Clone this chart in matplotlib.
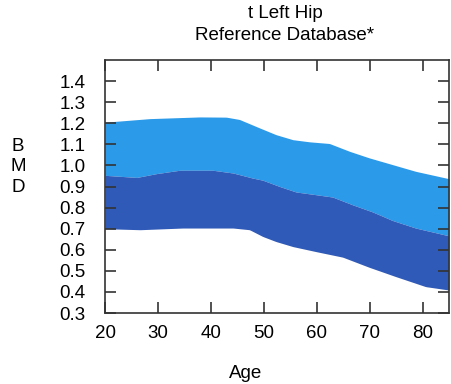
import matplotlib
matplotlib.use("Agg")
import matplotlib.pyplot as plt
import numpy as np

plt.rcParams['font.family'] = ['Liberation Sans', 'DejaVu Sans']

# reference curves (age, BMD)
age_up = [20, 28.5, 37.9, 42.9, 45.4, 49.2, 52.3, 55.5, 58.6, 62.4, 66.2, 69.9, 74.3, 78.7, 85]
upper = [1.205, 1.222, 1.230, 1.229, 1.218, 1.178, 1.146, 1.122, 1.112, 1.104, 1.067, 1.036, 1.004, 0.972, 0.937]

age_mid = [20, 26, 29.7, 34.1, 40.4, 44.2, 47.9, 49.8, 53, 56.1, 59.9, 63, 66.8, 70.6, 74.3, 78.7, 85]
middle = [0.953, 0.943, 0.961, 0.977, 0.977, 0.964, 0.940, 0.930, 0.900, 0.874, 0.861, 0.850, 0.813, 0.779, 0.739, 0.703, 0.666]

age_low = [20, 26.6, 34.7, 44.2, 47.3, 49.8, 52.3, 55.5, 59.9, 64.9, 69.9, 74.9, 80.6, 85]
lower = [0.700, 0.695, 0.703, 0.703, 0.695, 0.663, 0.639, 0.615, 0.591, 0.565, 0.517, 0.473, 0.425, 0.409]

xticks = [20, 30, 40, 50, 60, 70, 80]
yticks = [0.3, 0.4, 0.5, 0.6, 0.7, 0.8, 0.9, 1.0, 1.1, 1.2, 1.3, 1.4]

# common age grid so the bands can share edges
grid = np.linspace(20, 85, 261)
up = np.interp(grid, age_up, upper)
mid = np.interp(grid, age_mid, middle)
low = np.interp(grid, age_low, lower)

fig = plt.figure(figsize=(4.51, 3.84), dpi=100)
ax = fig.add_axes([105/451, 1-313/384, 344/451, 253/384])

ax.fill_between(grid, mid, up, color='#2b9ae9', lw=0)
ax.fill_between(grid, low, mid, color='#2f5ab8', lw=0)

ax.set_xlim(20, 85)
ax.set_ylim(0.3, 1.5)
ax.set_xticks(xticks)
ax.set_yticks(yticks)
ax.set_yticklabels([f'{v:.1f}' for v in yticks])
ax.tick_params(direction='in', length=8, width=1.2, color='#333333',
               top=True, right=True, labelsize=13.5)
ax.tick_params(axis='y', pad=14)
ax.tick_params(axis='x', pad=9)
for s in ax.spines.values():
    s.set_color('#333333')
    s.set_linewidth(1.2)

fig.text(285/451, 1-13/384, 't Left Hip', ha='center', va='center', fontsize=13.5)
fig.text(285/451, 1-35/384, 'Reference Database*', ha='center', va='center', fontsize=13.5)
fig.text(18/451, 1-167/384, 'B\nM\nD', ha='center', va='center', fontsize=13.5, linespacing=1.28)
fig.text(246/451, 1-373/384, 'Age', ha='center', va='center', fontsize=13.5)

fig.savefig('out.png', dpi=100)
